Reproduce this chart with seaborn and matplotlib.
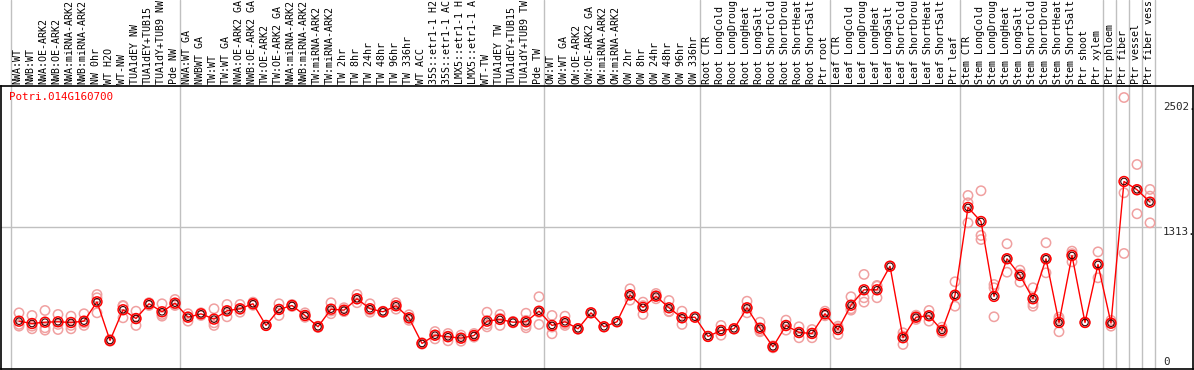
import matplotlib
matplotlib.use('Agg')
import matplotlib.pyplot as plt
import seaborn as sns
import pandas as pd
import numpy as np

# --- Data ---
gene = 'Potri.014G160700'

samples = [
    'NWA:WT', 'NWB:WT', 'NWA:OE-ARK2', 'NWB:OE-ARK2', 'NWA:miRNA-ARK2', 'NWB:miRNA-ARK2',
    'NW 0hr', 'WT H2O', 'WT-NW', 'TUA1dEY NW', 'TUA1dEY+TUB15 NW', 'TUA1dY+TUB9 NW', 'Pde NW',
    'NWA:WT GA', 'NWBWT GA', 'TW:WT', 'TW:WT GA', 'NWA:OE-ARK2 GA', 'NWB:OE-ARK2 GA',
    'TW:OE-ARK2', 'TW:OE-ARK2 GA', 'NWA:miRNA-ARK2 GA', 'NWB:miRNA-ARK2 GA', 'TW:miRNA-ARK2',
    'TW:miRNA-ARK2 GA', 'TW 2hr', 'TW 8hr', 'TW 24hr', 'TW 48hr', 'TW 96hr', 'TW 336hr',
    'WT ACC', '35S::etr1-1 H2O', '35S::etr1-1 ACC', 'LMX5::etr1-1 H2O', 'LMX5::etr1-1 ACC',
    'WT-TW', 'TUA1dEY TW', 'TUA1dEY+TUB15 TW', 'TUA1dY+TUB9 TW', 'Pde TW',
    'OW:WT', 'OW:WT GA', 'OW:OE-ARK2', 'OW:OE-ARK2 GA', 'OW:miRNA-ARK2', 'OW:miRNA-ARK2 GA',
    'OW 2hr', 'OW 8hr', 'OW 24hr', 'OW 48hr', 'OW 96hr', 'OW 336hr',
    'Root CTR', 'Root LongCold', 'Root LongDrought', 'Root LongHeat', 'Root LongSalt',
    'Root ShortCold', 'Root ShortDrought', 'Root ShortHeat', 'Root ShortSalt', 'Ptr root',
    'Leaf CTR', 'Leaf LongCold', 'Leaf LongDrought', 'Leaf LongHeat', 'Leaf LongSalt',
    'Leaf ShortCold', 'Leaf ShortDrought', 'Leaf ShortHeat', 'Leaf ShortSalt', 'Ptr leaf',
    'Stem CTR', 'Stem LongCold', 'Stem LongDrought', 'Stem LongHeat', 'Stem LongSalt',
    'Stem ShortCold', 'Stem ShortDrought', 'Stem ShortHeat', 'Stem ShortSalt',
    'Ptr shoot', 'Ptr xylem', 'Ptr phloem', 'Ptr fiber', 'Ptr vessel', 'Ptr fiber vessel',
]

mean_values = [
    392, 369, 382, 386, 379, 392, 582, 202, 504, 418, 563, 484, 569,
    431, 464, 412, 494, 514, 563, 350, 507, 546, 448, 337, 510, 500,
    612, 514, 484, 543, 425, 173, 254, 239, 225, 251, 392, 409, 382, 386, 490,
    350, 386, 317, 474, 337, 386, 651, 527, 638, 523, 425, 431,
    242, 301, 317, 523, 323, 140, 350, 281, 271, 465,
    310, 549, 700, 700, 932, 229, 431, 445, 301, 647,
    1509, 1371, 635, 1005, 841, 612, 1005, 379, 1037, 379, 949,
    372, 1764, 1683, 1561,
]

replicates = [
    [474, 360, 343], [448, 343, 317], [497, 327, 304], [458, 360, 310], [441, 350, 317],
    [465, 376, 350], [654, 622, 474], [212, 200, 195], [546, 540, 425], [490, 415, 350],
    [573, 570, 546], [563, 458, 441], [605, 556, 546],
    [465, 436, 392], [474, 470, 448], [514, 376, 350], [556, 490, 435], [556, 507, 480],
    [579, 563, 548], [350], [563, 510, 448], [556, 546, 536], [474, 441, 430],
    [343, 337, 330], [573, 492, 465], [524, 490, 486],
    [654, 610, 573], [563, 500, 480], [490, 482, 480], [573, 546, 510], [455, 420, 400],
    [180, 173, 166], [290, 254, 218], [271, 245, 199], [255, 225, 195], [271, 251, 235],
    [480, 360, 336], [458, 420, 350], [390, 382, 375], [470, 400, 350, 327], [632, 478, 360],
    [448, 334, 268], [441, 367, 350], [320, 317, 314], [474], [337], [386],
    [710, 645, 598], [579, 545, 458], [664, 638, 612], [595, 490, 485], [490, 425, 360], [431],
    [242], [350, 301, 254], [317], [588, 523, 474], [382, 300, 288], [150, 140, 130],
    [402, 345, 304], [337, 277, 229], [310, 275, 229], [490, 460, 445],
    [343, 326, 261], [632, 514, 500], [851, 622, 579], [743, 736, 622], [932],
    [278, 246, 163], [451, 431, 409], [497, 445, 392], [333, 292, 278], [779, 647, 539],
    [1627, 1555, 1358], [1673, 1234, 1194], [752, 720, 435], [1152, 1005, 873],
    [893, 856, 775], [720, 566, 539], [1162, 1005, 867], [431, 410, 288], [1080, 1055, 975],
    [379], [1073, 955, 818],
    [400, 372, 343], [2589, 1653, 1057], [1931, 1683, 1447], [1686, 1620, 1358],
]

# group boundaries (index of first sample of each block)
group_starts = [0, 13, 41, 53, 63, 73, 84, 85, 86, 87, 88]

y_ticks = [0, 1313, 2502]
y_ticklabels = ['0', '1313.', '2502.']

# header band only has room for 14 characters
MAX_CHARS = 14

# --- Frames ---
means_df = pd.DataFrame({'pos': np.arange(len(samples)), 'value': mean_values})
rep_rows = [(i, v) for i, reps in enumerate(replicates) for v in reps]
reps_df = pd.DataFrame(rep_rows, columns=['pos', 'value'])

# --- Style ---
sns.set_style('white')
plt.rcParams['font.family'] = ['DejaVu Sans Mono']
FONT = 7.2

W, H = 1194, 370
fig = plt.figure(figsize=(W / 100, H / 100), dpi=100)
ax_top, ax_bot, ax_left, ax_right = 85.5, 368.5, 1, 1193
ax = fig.add_axes([ax_left / W, (H - ax_bot) / H, (ax_right - ax_left) / W, (ax_bot - ax_top) / H])

grey = '#c0c0c0'
ext = ax_bot / (ax_bot - ax_top)  # reach up to figure top
for k in group_starts:
    ax.axvline(k - 0.6, ymin=0, ymax=ext, color=grey, lw=1, clip_on=False, zorder=0)
ax.axhline(1313, xmin=0, xmax=(1161 - ax_left) / (ax_right - ax_left), color=grey, lw=1, zorder=0)

sns.scatterplot(data=reps_df, x='pos', y='value', ax=ax, marker='o', s=45,
                facecolor='none', edgecolor='#f0a0a0', linewidth=1.1, zorder=2, legend=False)
sns.lineplot(data=means_df, x='pos', y='value', ax=ax, color='#ff0000', lw=1, zorder=3)
sns.scatterplot(data=means_df, x='pos', y='value', ax=ax, marker='o', s=50,
                facecolor='none', edgecolor='#ff0000', linewidth=1.1, zorder=4, legend=False)
sns.scatterplot(data=means_df, x='pos', y='value', ax=ax, marker='o', s=22,
                facecolor='none', edgecolor='#400000', linewidth=0.8, zorder=5, legend=False)

# px = 19 + 13*i
ax.set_xlim((ax_left - 19) / 13, (ax_right - 19) / 13)
ax.set_ylim(-73, 2707)
ax.set_xlabel('')
ax.set_ylabel('')
ax.set_xticks([])

ax.yaxis.tick_right()
ax.set_yticks(y_ticks)
ax.set_yticklabels(y_ticklabels, fontsize=FONT + 0.6)
ax.tick_params(axis='y', length=0, pad=-21.6)
for lab in ax.get_yticklabels():
    lab.set_horizontalalignment('left')
    if lab.get_text() == '1313.':
        lab.set_verticalalignment('top')

for sp in ax.spines.values():
    sp.set_color('black')
    sp.set_linewidth(1.2)

# sample labels in the header band
for i, name in enumerate(samples):
    ax.text(i - 0.1, 1.006, name[:MAX_CHARS].rstrip(), transform=ax.get_xaxis_transform(),
            rotation=90, ha='center', va='bottom', fontsize=FONT, color='black', clip_on=False)

ax.text(8 / (ax_right - ax_left), 1 - (97 - ax_top) / (ax_bot - ax_top), gene,
        transform=ax.transAxes, color='#ff0000', fontsize=FONT + 0.6, ha='left', va='center')

fig.savefig('out.png', dpi=100)
